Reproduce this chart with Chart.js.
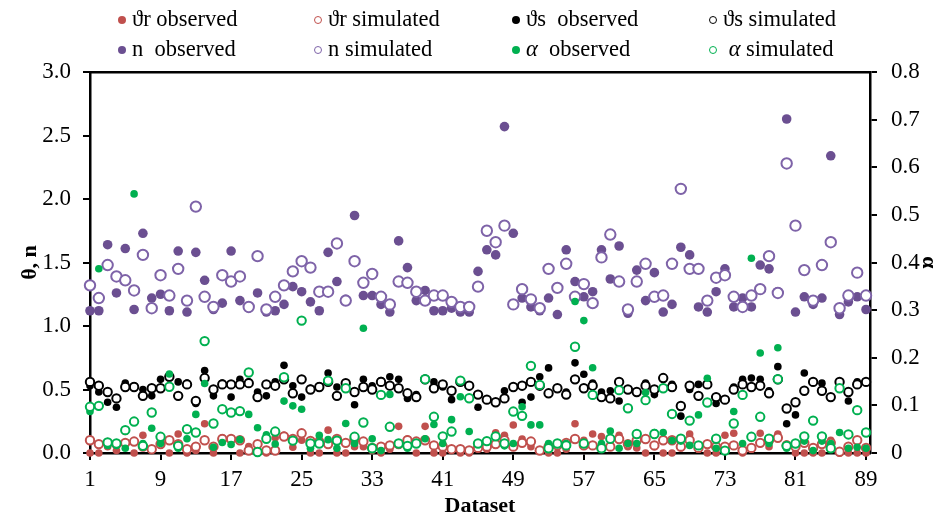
<!DOCTYPE html>
<html><head><meta charset="utf-8">
<script src="https://cdn.jsdelivr.net/npm/chart.js@4/dist/chart.umd.min.js"></script>
<style>
html,body{margin:0;padding:0;background:#fff;}
#wrap{position:relative;width:952px;height:521px;}
#legend{position:absolute;left:0;top:0;width:952px;height:70px;font-family:"Liberation Serif",serif;font-size:22.5px;color:#000;}
.item{position:absolute;white-space:pre;line-height:26px;height:26px;}
.mk{position:absolute;width:8px;height:8px;border-radius:50%;box-sizing:border-box;}
</style></head>
<body><div id="wrap"><canvas id="c" width="952" height="521" style="width:952px;height:521px"></canvas><div id="legend"></div></div>
<script>
const xTickValues = [1, 9, 17, 25, 33, 41, 49, 57, 65, 73, 81, 89];
const leftTicks = [0, 0.5, 1, 1.5, 2, 2.5, 3];
const rightTicks = [0, 0.1, 0.2, 0.3, 0.4, 0.5, 0.6, 0.7, 0.8];

const thetaR_obs = [0,0,0.05,0.02,0.17,0,0.14,0.03,0.09,0,0.15,0,0.02,0.23,0,0.12,0.10,0,0.05,0,0,0.12,0.14,0.045,0.10,0,0,0.18,0,0,0.05,0.05,0.02,0,0.03,0.21,0.11,0,0.21,0,0,0.03,0,0,0.05,0.03,0.16,0.14,0.22,0.11,0.05,0.02,0,0,0.03,0.23,0.10,0.15,0.13,0.10,0.14,0.05,0.04,0,0.05,0,0,0.04,0.15,0.03,0,0,0.14,0.155,0,0.03,0.155,0.05,0.15,0.07,0,0,0,0,0.10,0,0,0,0];
const thetaR_sim = [0.10,0.07,0.08,0.07,0.08,0.09,0.05,0.03,0.07,0.10,0.07,0.03,0.05,0.10,0.05,0.11,0.11,0.10,0.02,0.07,0.02,0.02,0.13,0.11,0.155,0.095,0.09,0.07,0.11,0.08,0.11,0.09,0.04,0.05,0.06,0.07,0.10,0.09,0.10,0.06,0.05,0.03,0.03,0.02,0.04,0.05,0.07,0.10,0.05,0.08,0.09,0.02,0.05,0.06,0.08,0.11,0.06,0.06,0.04,0.05,0.11,0.07,0.10,0.11,0.06,0.10,0.10,0.05,0.10,0.04,0.07,0.05,0.05,0.06,0.02,0.04,0.08,0.10,0.12,0.06,0.05,0.08,0.04,0.07,0.08,0.01,0.05,0.10,0.04];
const thetaS_obs = [0.53,0.48,0.40,0.36,0.55,0.53,0.50,0.45,0.58,0.60,0.56,0.55,0.39,0.65,0.45,0.55,0.44,0.58,0.56,0.48,0.45,0.56,0.69,0.53,0.44,0.51,0.53,0.63,0.52,0.55,0.38,0.58,0.53,0.57,0.60,0.58,0.43,0.46,0.58,0.56,0.52,0.42,0.57,0.53,0.36,0.42,0.40,0.49,0.52,0.40,0.44,0.60,0.67,0.51,0.48,0.71,0.62,0.55,0.48,0.49,0.41,0.50,0.48,0.55,0.46,0.51,0.54,0.29,0.50,0.54,0.54,0.39,0.42,0.52,0.58,0.59,0.58,0.49,0.68,0.23,0.30,0.63,0.56,0.55,0.44,0.51,0.41,0.56,0.56];
const thetaS_sim = [0.56,0.53,0.48,0.43,0.52,0.52,0.45,0.51,0.51,0.60,0.45,0.54,0.41,0.59,0.50,0.54,0.54,0.54,0.55,0.44,0.54,0.53,0.58,0.47,0.58,0.50,0.52,0.56,0.45,0.55,0.48,0.52,0.50,0.56,0.53,0.51,0.47,0.44,0.58,0.51,0.54,0.49,0.56,0.53,0.46,0.42,0.40,0.43,0.52,0.53,0.56,0.53,0.47,0.51,0.46,0.58,0.51,0.53,0.44,0.43,0.56,0.50,0.48,0.53,0.50,0.59,0.52,0.37,0.53,0.45,0.54,0.44,0.42,0.50,0.54,0.52,0.53,0.47,0.58,0.35,0.40,0.49,0.56,0.49,0.44,0.56,0.48,0.54,0.56];
const n_obs = [1.12,1.12,1.64,1.26,1.61,1.13,1.73,1.22,1.25,1.12,1.59,1.11,1.58,1.36,1.13,1.18,1.59,1.20,1.14,1.26,1.11,1.12,1.17,1.31,1.27,1.19,1.12,1.58,1.35,1.21,1.87,1.24,1.24,1.17,1.11,1.67,1.46,1.20,1.28,1.12,1.12,1.14,1.11,1.11,1.43,1.60,1.56,2.57,1.73,1.22,1.15,1.12,1.22,1.09,1.60,1.35,1.23,1.27,1.60,1.37,1.63,1.10,1.44,1.20,1.42,1.11,1.17,1.62,1.56,1.15,1.11,1.27,1.45,1.15,1.22,1.15,1.48,1.45,1.27,2.63,1.11,1.23,1.17,1.22,2.34,1.09,1.19,1.23,1.13];
const n_sim = [1.32,1.22,1.48,1.39,1.36,1.28,1.56,1.14,1.40,1.24,1.45,1.20,1.94,1.23,1.15,1.40,1.35,1.39,1.15,1.55,1.13,1.23,1.32,1.43,1.51,1.46,1.27,1.27,1.65,1.20,1.51,1.34,1.41,1.23,1.17,1.35,1.34,1.27,1.20,1.24,1.24,1.19,1.15,1.15,1.31,1.75,1.66,1.79,1.17,1.29,1.21,1.14,1.45,1.30,1.49,1.23,1.33,1.18,1.54,1.72,1.35,1.13,1.35,1.49,1.23,1.24,1.49,2.08,1.45,1.45,1.20,1.38,1.40,1.23,1.15,1.24,1.29,1.55,1.26,2.28,1.79,1.44,1.20,1.48,1.66,1.14,1.24,1.42,1.24];
const alpha_obs = [0.087,0.387,0.016,0.016,0.010,0.544,0.020,0.052,0.020,0.166,0.010,0.030,0.081,0.146,0.012,0.022,0.018,0.028,0.081,0.053,0.038,0.019,0.109,0.099,0.092,0.010,0.037,0.028,0.010,0.062,0.020,0.262,0.030,0.005,0.123,0.020,0.010,0.020,0.030,0.060,0.020,0.070,0.118,0.045,0.020,0.025,0.035,0.015,0.020,0.097,0.059,0.059,0.020,0.020,0.020,0.318,0.278,0.179,0.020,0.046,0.010,0.020,0.020,0.127,0.043,0.043,0.026,0.025,0.016,0.080,0.157,0.010,0.005,0.087,0.020,0.409,0.210,0.020,0.221,0.010,0.018,0.025,0.005,0.025,0.020,0.043,0.010,0.012,0.010];
const alpha_sim = [0.097,0.099,0.022,0.020,0.048,0.066,0.015,0.085,0.034,0.139,0.015,0.050,0.043,0.235,0.062,0.092,0.085,0.088,0.169,0.002,0.030,0.045,0.159,0.026,0.278,0.020,0.020,0.152,0.026,0.136,0.034,0.064,0.010,0.122,0.055,0.020,0.015,0.020,0.155,0.076,0.035,0.045,0.152,0.115,0.020,0.025,0.035,0.020,0.087,0.078,0.183,0.143,0.010,0.020,0.016,0.223,0.020,0.122,0.010,0.030,0.132,0.094,0.040,0.111,0.040,0.136,0.082,0.030,0.068,0.016,0.106,0.030,0.005,0.062,0.122,0.034,0.076,0.030,0.155,0.015,0.020,0.035,0.068,0.035,0.010,0.136,0.039,0.090,0.043];

const datasetNo = thetaR_obs.map((_, i) => i + 1);

const RED = '#C0504D', BLACK = '#000000', PURPLE = '#6B4F91', PURPLE_O = '#7E63A8', GREEN = '#00B050';
const series = [
  {label: 'ϑr observed',  values: thetaR_obs, axis: 'y',  color: RED,      open: false, r: 3.8},
  {label: 'ϑr simulated', values: thetaR_sim, axis: 'y',  color: RED,      open: true,  r: 4.2},
  {label: 'ϑs  observed', values: thetaS_obs, axis: 'y',  color: BLACK,    open: false, r: 3.8},
  {label: 'ϑs simulated', values: thetaS_sim, axis: 'y',  color: BLACK,    open: true,  r: 4.2},
  {label: 'n  observed',  values: n_obs,      axis: 'y',  color: PURPLE,   open: false, r: 4.8},
  {label: 'n simulated',  values: n_sim,      axis: 'y',  color: PURPLE_O, open: true,  r: 5.2},
  {label: 'α  observed',  values: alpha_obs,  axis: 'y2', color: GREEN,    open: false, r: 3.8},
  {label: ' α simulated', values: alpha_sim,  axis: 'y2', color: GREEN,    open: true,  r: 4.2}
];

const FONT = '"Liberation Serif", serif';
const tickFont = {family: FONT, size: 23};
const titleFont = {family: FONT, size: 22, weight: 'bold'};

const chart = new Chart(document.getElementById('c'), {
  type: 'scatter',
  data: {
    datasets: series.map((s, k) => ({
      label: s.label,
      data: s.values.map((v, i) => ({x: datasetNo[i], y: v})),
      yAxisID: s.axis,
      pointStyle: 'circle',
      pointRadius: s.r,
      pointHoverRadius: s.r,
      pointBackgroundColor: s.open ? '#ffffff' : s.color,
      pointBorderColor: s.color,
      pointBorderWidth: s.open ? 2 : 0,
      showLine: false,
      clip: false,
      order: 20 - k
    }))
  },
  options: {
    responsive: false,
    animation: false,
    events: [],
    layout: {padding: {top: 72, left: 0, right: 0, bottom: 0}},
    plugins: {legend: {display: false}, tooltip: {enabled: false}},
    scales: {
      x: {
        type: 'linear', position: 'bottom', min: 1, max: 89.45,
        afterFit: s => { s.height = 68; },
        afterBuildTicks: s => { s.ticks = xTickValues.map(v => ({value: v})); },
        grid: {drawOnChartArea: false, drawTicks: true, tickLength: 7, color: '#000', lineWidth: 2},
        border: {display: true, color: '#000', width: 2.5},
        ticks: {font: tickFont, color: '#000', padding: 6, maxRotation: 0, autoSkip: false, callback: v => String(v)},
        title: {display: true, text: 'Dataset', font: titleFont, color: '#000', padding: {top: 0, bottom: 1}}
      },
      xTop: {
        type: 'linear', position: 'top', min: 1, max: 89.45,
        afterFit: s => { s.height = 0; },
        grid: {display: false, drawTicks: false},
        border: {display: true, color: '#000', width: 2.5},
        ticks: {display: false}
      },
      y: {
        type: 'linear', position: 'left', min: 0, max: 3,
        afterFit: s => { s.width = 90; },
        afterBuildTicks: s => { s.ticks = leftTicks.map(v => ({value: v})); },
        grid: {drawOnChartArea: false, drawTicks: true, tickLength: 7, color: '#000', lineWidth: 2},
        border: {display: true, color: '#000', width: 2.5},
        ticks: {font: tickFont, color: '#000', padding: 12, callback: v => Number(v).toFixed(1)},
        title: {display: true, text: 'θ, n', font: titleFont, color: '#000', padding: {top: 17, bottom: 0}}
      },
      y2: {
        type: 'linear', position: 'right', min: 0, max: 0.8,
        afterFit: s => { s.width = 82; },
        afterBuildTicks: s => { s.ticks = rightTicks.map(v => ({value: v})); },
        grid: {drawOnChartArea: false, drawTicks: true, tickLength: 7, color: '#000', lineWidth: 2},
        border: {display: true, color: '#000', width: 2.5},
        ticks: {font: tickFont, color: '#000', padding: 14, callback: v => (v === 0 ? '0' : Number(v).toFixed(1))},
        title: {display: true, text: 'α', font: titleFont, color: '#000', padding: {top: 10, bottom: 0}}
      }
    }
  }
});

// HTML legend built from the datasets
const legendCols = [122, 318, 516, 713];
const legendRows = [20, 50];
const leg = document.getElementById('legend');
series.forEach((s, k) => {
  const cx = legendCols[k % 4], cy = legendRows[Math.floor(k / 4)];
  const mk = document.createElement('div');
  mk.className = 'mk';
  mk.style.left = (cx - 4) + 'px';
  mk.style.top = (cy - 4) + 'px';
  if (s.open) { mk.style.border = '1.8px solid ' + s.color; mk.style.background = '#fff'; }
  else { mk.style.background = s.color; }
  leg.appendChild(mk);
  const it = document.createElement('div');
  it.className = 'item';
  it.style.left = (cx + 10) + 'px';
  it.style.top = (cy - 14) + 'px';
  it.innerHTML = s.label.replace('α', '<i>α</i>');
  leg.appendChild(it);
});
</script>
</body></html>
